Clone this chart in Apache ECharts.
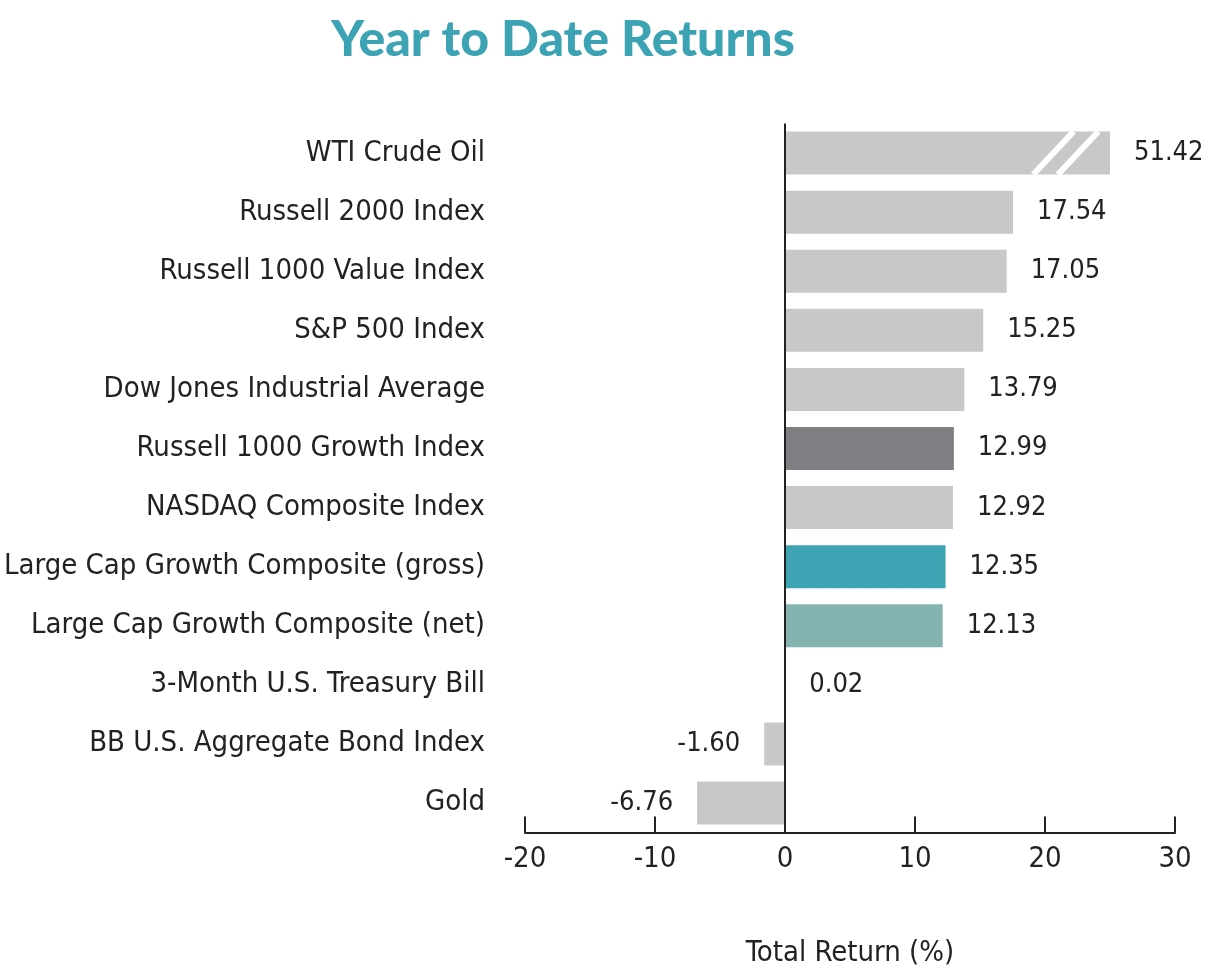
<!DOCTYPE html>
<html>
<head>
<meta charset="utf-8">
<script src="https://cdn.jsdelivr.net/npm/echarts@6/dist/echarts.min.js"></script>
<style>
html,body{margin:0;padding:0;background:#fff;}
#chart{width:1228px;height:972px;}
</style>
</head>
<body>
<div id="chart"></div>
<script>
var categories = [
  "WTI Crude Oil",
  "Russell 2000 Index",
  "Russell 1000 Value Index",
  "S&P 500 Index",
  "Dow Jones Industrial Average",
  "Russell 1000 Growth Index",
  "NASDAQ Composite Index",
  "Large Cap Growth Composite (gross)",
  "Large Cap Growth Composite (net)",
  "3-Month U.S. Treasury Bill",
  "BB U.S. Aggregate Bond Index",
  "Gold"
];
var values = [51.42, 17.54, 17.05, 15.25, 13.79, 12.99, 12.92, 12.35, 12.13, 0.02, -1.60, -6.76];
var barColors = ["#c8c8c8","#c8c8c8","#c8c8c8","#c8c8c8","#c8c8c8","#7f7e83","#c8c8c8","#3ea3b2","#84b3b0","#c8c8c8","#c8c8c8","#c8c8c8"];
var axisMin = -20, axisMax = 30, axisStep = 10;
var brokenCap = 25;

var FONT = "'Liberation Sans Narrow','DejaVu Sans Condensed','Roboto Condensed',sans-serif";

var chart = echarts.init(document.getElementById('chart'), null, {renderer:'canvas'});

var barData = values.map(function(v, i){
  return {
    value: Math.min(v, brokenCap),
    realValue: v,
    itemStyle: {color: barColors[i]},
    label: {position: v < 0 ? 'left' : 'right'}
  };
});

var breakData = [];
values.forEach(function(v, i){ if (v > brokenCap) breakData.push([i]); });

chart.setOption({
  animation: false,
  title: {
    text: 'Year to Date Returns',
    left: 558, top: 10, textAlign: 'center',
    textStyle: {fontFamily: "Lato, 'Open Sans', sans-serif", fontWeight: 900, fontSize: 50, color: '#3ba3b3'}
  },
  grid: {left: 525, right: 53, top: 123.5, bottom: 139.5, containLabel: false, outerBoundsMode: 'none'},
  xAxis: {
    type: 'value', min: axisMin, max: axisMax, interval: axisStep,
    position: 'bottom',
    axisLine: {show: true, onZero: false, lineStyle: {color: '#222', width: 2}},
    axisTick: {show: true, inside: true, length: 16, lineStyle: {color: '#222', width: 2}},
    splitLine: {show: false},
    axisLabel: {fontFamily: FONT, fontSize: 29, color: '#222', margin: 12},
    name: 'Total Return (%)', nameLocation: 'middle', nameGap: 106,
    nameTextStyle: {fontFamily: FONT, fontSize: 29, color: '#222'}
  },
  yAxis: {
    type: 'category', data: categories, inverse: true,
    axisLine: {show: false, onZero: false},
    axisTick: {show: false},
    axisLabel: {fontFamily: FONT, fontSize: 29, color: '#222', margin: 40, padding: [8, 0, 0, 0]}
  },
  series: [
    {
      type: 'bar', data: barData, barWidth: 43,
      label: {
        show: true, distance: 24, fontFamily: FONT, fontSize: 27, color: '#222',
        padding: [8, 0, 0, 0],
        formatter: function(p){ return p.data.realValue.toFixed(2); }
      },
      markLine: {
        silent: true, symbol: ['none','none'], label: {show: false},
        lineStyle: {color: '#222', width: 2, type: 'solid'},
        data: [{xAxis: 0}]
      }
    },
    {
      type: 'custom', data: breakData, z: 5,
      encode: {y: 0},
      renderItem: function(params, api){
        var idx = api.value(0);
        var h = 43;
        var c = api.coord([0, idx]);
        var top = c[1] - h/2, bot = c[1] + h/2;
        var pairs = [[19.1, 22.2],[21.0, 24.1]];
        return {
          type: 'group',
          children: pairs.map(function(p){
            var a = api.coord([p[0], idx])[0], b = api.coord([p[1], idx])[0];
            return {type: 'line', shape: {x1: a, y1: bot, x2: b, y2: top}, style: {stroke: '#fff', lineWidth: 6}};
          })
        };
      }
    }
  ]
});
</script>
</body>
</html>
